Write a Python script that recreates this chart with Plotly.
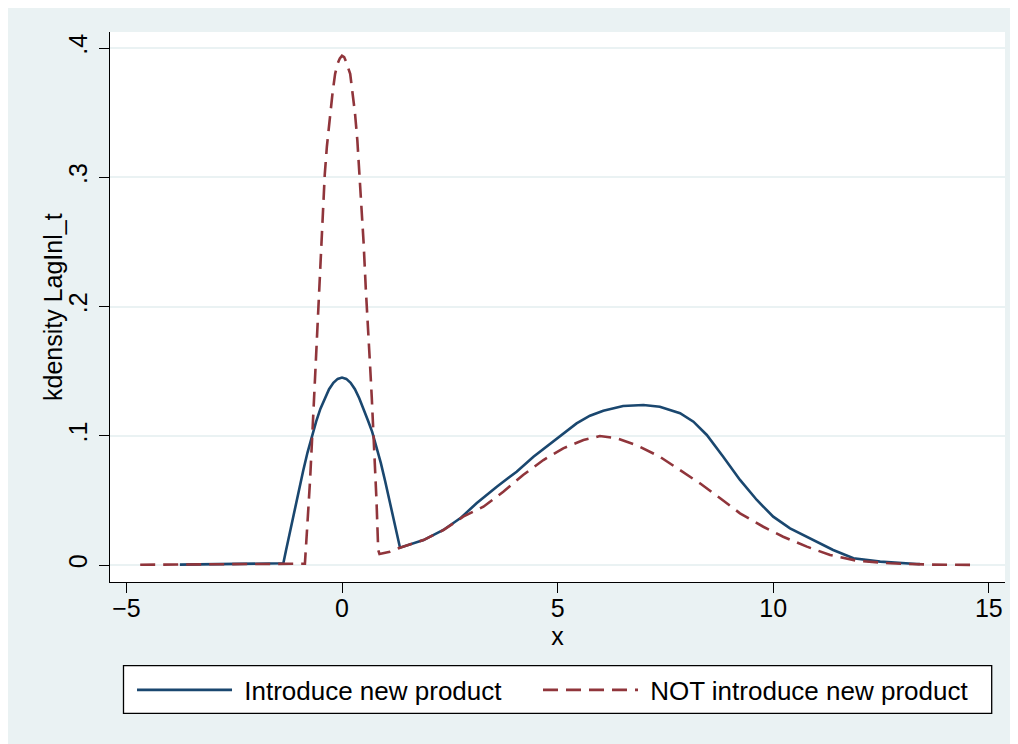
import plotly.graph_objects as go

# ---- data ----
intro_x = [-3.76, -3.0, -2.0, -1.36, -1.3, -1.2, -1.1, -1.0, -0.9, -0.8, -0.7, -0.6, -0.5,
           -0.4, -0.3, -0.2, -0.1, 0.0, 0.1, 0.2, 0.3, 0.4, 0.5, 0.6, 0.7, 0.8, 0.9, 1.0,
           1.1, 1.2, 1.3, 1.345, 1.89, 2.35, 2.74, 3.12, 3.59, 4.05, 4.44, 4.98, 5.44, 5.75,
           6.06, 6.52, 6.99, 7.37, 7.84, 8.15, 8.46, 8.84, 9.23, 9.62, 10.0, 10.39, 10.93,
           11.39, 11.86, 12.48, 13.33, 13.4]
intro_y = [0.0003, 0.0005, 0.0008, 0.0013, 0.011, 0.027, 0.043, 0.058, 0.073, 0.087, 0.1,
           0.111, 0.121, 0.129, 0.136, 0.141, 0.144, 0.145, 0.144, 0.141, 0.136, 0.129,
           0.121, 0.112, 0.103, 0.092, 0.079, 0.065, 0.05, 0.035, 0.019, 0.0134, 0.0193,
           0.0271, 0.0361, 0.0477, 0.0606, 0.0722, 0.0838, 0.098, 0.1096, 0.1155, 0.1194,
           0.123, 0.1238, 0.1225, 0.1174, 0.1109, 0.1006, 0.0838, 0.0658, 0.0503, 0.0374,
           0.0284, 0.0193, 0.0116, 0.0052, 0.0026, 0.0008, 0.0007]

not_x = [-4.68, -3.0, -2.0, -0.86, -0.8, -0.74, -0.665, -0.6, -0.55, -0.5, -0.45, -0.4,
         -0.35, -0.28, -0.22, -0.16, -0.1, -0.05, 0.0, 0.05, 0.1, 0.19, 0.25, 0.3, 0.355,
         0.4, 0.457, 0.5, 0.55, 0.6, 0.65, 0.69, 0.765, 0.8, 0.84, 0.87, 1.11, 1.345, 1.89,
         2.35, 2.81, 3.28, 3.74, 4.20, 4.67, 5.13, 5.60, 5.98, 6.37, 6.83, 7.37, 7.84, 8.30,
         8.77, 9.23, 9.77, 10.23, 10.78, 11.32, 11.94, 12.71, 13.64, 14.72]
not_y = [0.0002, 0.0003, 0.0004, 0.001, 0.033, 0.066, 0.117, 0.163, 0.2, 0.24, 0.277, 0.302,
         0.324, 0.347, 0.365, 0.38, 0.388, 0.392, 0.394, 0.393, 0.389, 0.38, 0.365, 0.35,
         0.329, 0.305, 0.277, 0.25, 0.215, 0.18, 0.155, 0.13, 0.079, 0.05, 0.0116, 0.0085,
         0.0103, 0.0134, 0.0193, 0.027, 0.0374, 0.0451, 0.0567, 0.0696, 0.0812, 0.0903,
         0.0967, 0.0998, 0.098, 0.0928, 0.0838, 0.0735, 0.0632, 0.0516, 0.04, 0.0296,
         0.0219, 0.0142, 0.0077, 0.0033, 0.0013, 0.0003, 0.0001]

series_names = ["Introduce new product", "NOT introduce new product"]
x_ticks = [-5, 0, 5, 10, 15]
y_ticks = [0, 0.1, 0.2, 0.3, 0.4]
y_tick_text = ["0", ".1", ".2", ".3", ".4"]
x_title = "x"
y_title = "kdensity LagInl_t"

FONT = "Liberation Sans, Arial, Helvetica, sans-serif"
BG = "#EAF2F3"
PAD = "\u00a0"

fig = go.Figure()
fig.add_trace(go.Scatter(x=intro_x, y=intro_y, mode="lines", name=PAD + series_names[0],
                         line=dict(color="#1A476F", width=2.6), legend="legend"))
fig.add_trace(go.Scatter(x=not_x, y=not_y, mode="lines", name=PAD + series_names[1],
                         line=dict(color="#90353B", width=2.6, dash="15px,8px"),
                         legend="legend2"))

legend_common = dict(orientation="h", yanchor="middle", xanchor="left",
                     bgcolor="rgba(0,0,0,0)", borderwidth=0, font=dict(size=26),
                     itemwidth=95)

fig.update_layout(
    width=1010, height=736,
    margin=dict(l=102, r=13, t=24, b=162),
    paper_bgcolor=BG, plot_bgcolor="white",
    font=dict(family=FONT, size=25, color="black"),
    showlegend=True,
    legend=dict(x=0.0246, y=-0.1964, **legend_common),
    legend2=dict(x=0.4782, y=-0.1964, **legend_common),
)
fig.update_xaxes(range=[-5.38, 15.375], tickvals=x_ticks, showgrid=False, zeroline=False,
                 showline=True, linecolor="black", linewidth=1.3,
                 ticks="outside", ticklen=10, tickwidth=1.3, tickcolor="black",
                 tickfont=dict(size=25), ticklabelstandoff=-6,
                 title=dict(text=x_title, font=dict(size=25), standoff=5))
fig.update_yaxes(range=[-0.01315, 0.4124], tickvals=y_ticks, ticktext=y_tick_text,
                 tickangle=-90, showgrid=True, gridcolor=BG, gridwidth=1.5, zeroline=False,
                 showline=True, linecolor="black", linewidth=1.3,
                 ticks="outside", ticklen=10, tickwidth=1.3, tickcolor="black",
                 tickfont=dict(size=25), ticklabelstandoff=2)

# y-axis title placed as rotated text to the left of the tick labels
fig.add_annotation(text=y_title, xref="paper", yref="paper", x=-57 / 895, y=0.5,
                   xanchor="center", yanchor="middle", textangle=-90, showarrow=False,
                   font=dict(size=25))

# legend frame
fig.add_shape(type="rect", xref="paper", yref="paper", x0=0.01508, x1=0.98514,
              y0=-0.23873, y1=-0.15218, line=dict(color="black", width=1.3),
              fillcolor="white", layer="below")

fig.write_html("out.html")
